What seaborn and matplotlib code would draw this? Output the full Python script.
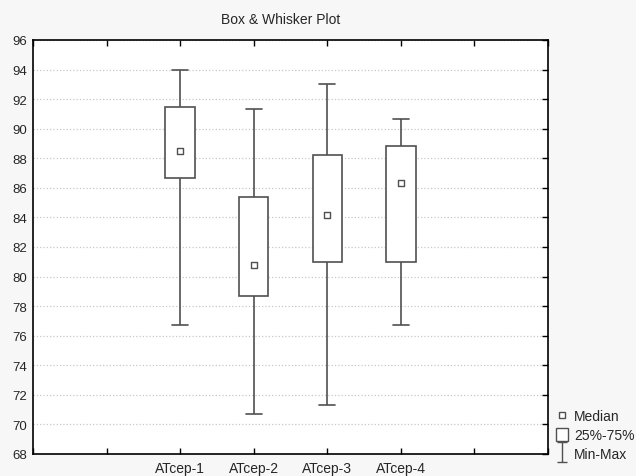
import numpy as np
import pandas as pd
import matplotlib
matplotlib.use("Agg")
import matplotlib.pyplot as plt
import seaborn as sns
from matplotlib.lines import Line2D
from matplotlib.patches import Patch
from matplotlib.path import Path

# Values
groups = ['ATcep-1', 'ATcep-2', 'ATcep-3', 'ATcep-4']
mins = [76.7, 70.7, 71.3, 76.7]
q1s = [86.7, 78.7, 81.0, 81.0]
medians = [88.5, 80.8, 84.15, 86.3]
q3s = [91.5, 85.35, 88.2, 88.8]
maxs = [94.0, 91.3, 93.0, 90.65]

# five points per group give exactly these quartiles
rows = []
for g, a, b, c, d, e in zip(groups, mins, q1s, medians, q3s, maxs):
    for v in (a, b, c, d, e):
        rows.append({'group': g, 'value': v})
df = pd.DataFrame(rows)

sns.set_style("white")
plt.rcParams['font.family'] = ['Liberation Sans', 'DejaVu Sans']

edge = '#505050'
fig = plt.figure(figsize=(6.36, 4.77), dpi=100, facecolor='#f7f7f7')
ax = fig.add_axes([33/636, 1 - 455/477, (548 - 33)/636, (455 - 41)/477])
ax.set_facecolor('white')

sns.boxplot(data=df, x='group', y='value', whis=(0, 100), width=0.4,
            color='white', linecolor=edge, linewidth=1.2,
            medianprops={'visible': False}, ax=ax)

# whisker caps a bit wider than seaborn default
for line in ax.lines:
    xd = np.asarray(line.get_xdata(), dtype=float)
    yd = np.asarray(line.get_ydata(), dtype=float)
    if len(xd) == 2 and yd[0] == yd[1] and xd[0] != xd[1]:
        c = xd.mean()
        line.set_xdata([c - 0.11, c + 0.11])

sns.stripplot(x=groups, y=medians, jitter=False, marker='s', size=4.5,
              color='white', edgecolor=edge, linewidth=1.0, ax=ax, zorder=5)

ax.set_xlim(-2, 5)
ax.set_ylim(68, 96)
ax.set_yticks(np.arange(68, 97, 2))
ax.set_xticks(range(-2, 6))
ax.set_xticklabels(['', ''] + groups + ['', ''])
ax.set_xlabel('')
ax.set_ylabel('')
ax.tick_params(axis='both', direction='in', length=4, width=1, color='black',
               labelsize=9.5, top=True, right=True, bottom=True, left=True,
               pad=3)
ax.tick_params(axis='x', labelsize=10, pad=5)
ax.tick_params(axis='y', left=False, pad=4)
ax.yaxis.grid(True, color='#c8c8c8', linestyle=':', linewidth=0.9)
ax.set_axisbelow(True)
for s in ax.spines.values():
    s.set_color('black')
    s.set_linewidth(1.2)

fig.text(281/636, 1 - 20/477, 'Box & Whisker Plot', ha='center', va='center',
         fontsize=10)

# legend
imark = Path([(-0.5, 1), (0.5, 1), (0, 1), (0, -1), (-0.5, -1), (0.5, -1)],
             [Path.MOVETO, Path.LINETO, Path.MOVETO, Path.LINETO,
              Path.MOVETO, Path.LINETO])
handles = [
    Line2D([], [], marker='s', markersize=4.5, markerfacecolor='white',
           markeredgecolor=edge, linestyle='none'),
    Patch(facecolor='white', edgecolor=edge, linewidth=1.0),
    Line2D([], [], marker=imark, markersize=14, markeredgecolor=edge,
           markerfacecolor='none', markeredgewidth=1.0, linestyle='none'),
]
fig.legend(handles, ['Median', '25%-75%', 'Min-Max'], loc='lower left',
           bbox_to_anchor=(556/636, 15/477), frameon=False, fontsize=10,
           handlelength=0.85, handleheight=1.15, handletextpad=0.45,
           labelspacing=0.3, borderpad=0.0, borderaxespad=0.0)

fig.savefig('out.png', dpi=100, facecolor=fig.get_facecolor())
